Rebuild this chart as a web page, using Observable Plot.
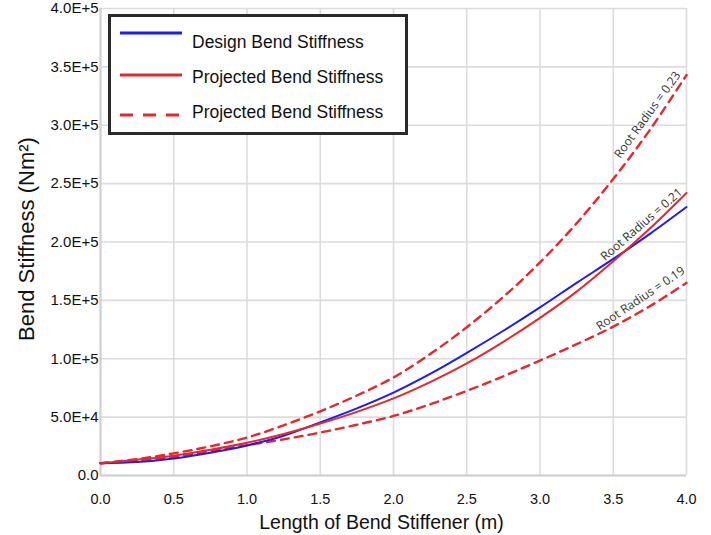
<!DOCTYPE html>
<html>
<head>
<meta charset="utf-8">
<script src="https://cdn.jsdelivr.net/npm/d3@7"></script>
<script src="https://cdn.jsdelivr.net/npm/@observablehq/plot@0.6"></script>
<style>
  body { margin: 0; background: #fff; font-family: "Liberation Sans", Arial, sans-serif; }
  #wrap { position: relative; width: 711px; height: 535px; }
  #legend { position: absolute; left: 108px; top: 14px; width: 300px; height: 121px; box-sizing: border-box;
            border: 3px solid #2a2a2a; background: #fff; }
  #legend svg { position: absolute; left: 0; top: 0; }
</style>
</head>
<body>
<div id="wrap"><div id="legend"></div></div>
<script>
// ---- data ----
const lengths = [0, 0.25, 0.5, 0.75, 1.0, 1.25, 1.5, 1.75, 2.0, 2.25, 2.5, 2.75, 3.0, 3.25, 3.5, 3.75, 4.0];
const designStiffness = [10500, 11500, 14600, 19500, 25700, 34000, 45500, 57500, 71000, 87000, 105000, 124000, 144000, 165000, 185500, 207000, 230000];
const projected021 = [10500, 13500, 17000, 22000, 28000, 35500, 44500, 54500, 66000, 80000, 96000, 114500, 135000, 157500, 183500, 211500, 242000];
const projected023 = [10500, 14000, 19000, 25000, 32500, 43000, 55000, 68500, 84000, 104000, 127000, 153000, 182500, 216000, 254000, 296000, 343000];
const projected019 = [10500, 13000, 16000, 21000, 26000, 31000, 36800, 43500, 51000, 61000, 72500, 85000, 98500, 112500, 127500, 145000, 165000];

const xTicks = [0, 0.5, 1.0, 1.5, 2.0, 2.5, 3.0, 3.5, 4.0];
const yTicks = [0, 50000, 100000, 150000, 200000, 250000, 300000, 350000, 400000];

const legendLabels = ["Design Bend Stiffness", "Projected Bend Stiffness", "Projected Bend Stiffness"];
const annotationLabels = ["Root Radius = 0.23", "Root Radius = 0.21", "Root Radius = 0.19"];
const annotationX = [3.734, 3.693, 3.686];
const annotationY = [309000, 215000, 151600];
const annotationAngles = [-54, -41, -34];

const xLabel = "Length of Bend Stiffener (m)";
const yLabel = "Bend Stiffness (Nm²)";

// ---- build tables ----
const toRows = (vals) => lengths.map((x, i) => ({x, y: vals[i]}));
const design = toRows(designStiffness);
const p21 = toRows(projected021);
const p23 = toRows(projected023);
const p19 = toRows(projected019);
const notes = annotationLabels.map((t, i) => ({t, x: annotationX[i], y: annotationY[i], a: annotationAngles[i]}));

const BLUE = "#1a1aff";
const RED = "#e8262b";
const fmtY = d => d === 0 ? "0.0" : d.toExponential(1).toUpperCase();

const chart = Plot.plot({
  width: 711,
  height: 535,
  marginLeft: 100,
  marginRight: 25,
  marginTop: 8,
  marginBottom: 60,
  x: {domain: [0, 4]},
  y: {domain: [0, 400000]},
  style: {fontFamily: "'Liberation Sans', Arial, sans-serif", color: "#111", background: "#fff"},
  marks: [
    Plot.gridX(xTicks, {stroke: "#dcdcdc", strokeOpacity: 1, strokeWidth: 1.6}),
    Plot.gridY(yTicks, {stroke: "#dcdcdc", strokeOpacity: 1, strokeWidth: 1.6}),
    Plot.ruleX([0], {stroke: "#cfcfcf", strokeWidth: 2}),
    Plot.ruleY([0], {stroke: "#cfcfcf", strokeWidth: 2}),
    Plot.axisX(xTicks, {tickSize: 0, tickPadding: 18, tickFormat: d => d.toFixed(1), label: null, fontSize: 14.5}),
    Plot.axisY(yTicks, {tickSize: 0, tickPadding: 2, tickFormat: fmtY, label: null, fontSize: 15}),
    Plot.line(p23, {x: "x", y: "y", stroke: RED, strokeWidth: 2.4, strokeDasharray: "8,6", curve: "catmull-rom"}),
    Plot.line(p19, {x: "x", y: "y", stroke: RED, strokeWidth: 2.4, strokeDasharray: "8,6", curve: "catmull-rom"}),
    Plot.line(design, {x: "x", y: "y", stroke: BLUE, strokeWidth: 2, curve: "catmull-rom"}),
    Plot.line(p21, {x: "x", y: "y", stroke: RED, strokeWidth: 2, curve: "catmull-rom"}),
    Plot.text(notes, {x: "x", y: "y", text: "t", rotate: d => d.a, fontSize: 12,
      fontFamily: "'Open Sans', sans-serif", fill: "#333", textAnchor: "middle", lineAnchor: "middle"}),
    Plot.text([xLabel], {frameAnchor: "bottom", text: d => d, dx: -12, dy: 47, fontSize: 19.5, fill: "#111",
      textAnchor: "middle", lineAnchor: "middle"}),
    Plot.text([yLabel], {frameAnchor: "left", text: d => d, rotate: -90, dx: -74, dy: -3, fontSize: 22, fill: "#111",
      textAnchor: "middle", lineAnchor: "middle"})
  ]
});
document.getElementById("wrap").prepend(chart);

// ---- legend overlay ----
const legendStyles = [
  {stroke: BLUE, dash: null},
  {stroke: RED, dash: null},
  {stroke: RED, dash: "13,10"}
];
const lineY = [16, 58, 98];
const textY = [25, 60, 95];
const lsvg = d3.select("#legend").append("svg").attr("width", 294).attr("height", 115);
legendLabels.forEach((lab, i) => {
  lsvg.append("line")
    .attr("x1", 9).attr("x2", 71).attr("y1", lineY[i]).attr("y2", lineY[i])
    .attr("stroke", legendStyles[i].stroke).attr("stroke-width", 3)
    .attr("stroke-dasharray", legendStyles[i].dash);
  lsvg.append("text")
    .attr("x", 81).attr("y", textY[i]).attr("dy", "0.35em")
    .attr("font-family", "'Liberation Sans', Arial, sans-serif")
    .attr("font-size", 17.5).attr("fill", "#111")
    .text(lab);
});
</script>
</body>
</html>
